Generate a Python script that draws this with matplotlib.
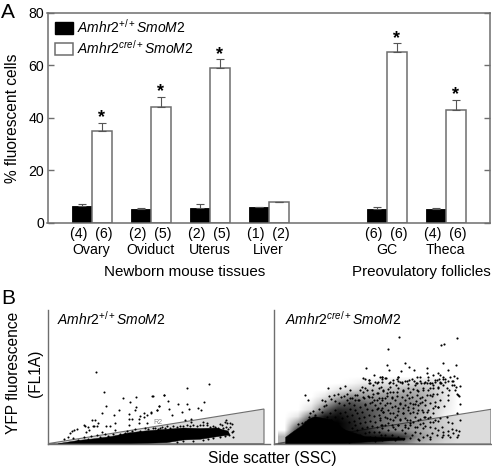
import matplotlib
matplotlib.use("Agg")
import matplotlib.pyplot as plt
from matplotlib.colors import LinearSegmentedColormap
from matplotlib.patches import Patch, Polygon

plt.rcParams['font.family'] = ['Liberation Sans', 'DejaVu Sans']
plt.rcParams['mathtext.fontset'] = 'custom'
plt.rcParams['mathtext.rm'] = 'Liberation Sans'
plt.rcParams['mathtext.it'] = 'Liberation Sans:italic'

W, H = 492, 467
GRAY = '#6e6e6e'

# ---------- panel A data
tissues = ['Ovary', 'Oviduct', 'Uterus', 'Liver', 'GC', 'Theca']
group_pos = [0, 1, 2, 3, 5, 6]
control = [6.2, 5.2, 5.6, 6.0, 5.4, 5.2]
control_err = [0.8, 0.3, 1.4, 0.1, 0.6, 0.3]
mutant = [35, 44, 59, 7.8, 65, 43]
mutant_err = [3.0, 4.0, 3.3, 0.2, 3.4, 3.8]
n_control = [4, 2, 2, 1, 6, 4]
n_mutant = [6, 5, 5, 2, 6, 6]
significant = [True, True, True, False, True, True]
label_ctrl = r'$\mathit{Amhr2}^{+/+}\mathit{SmoM2}$'
label_mut = r'$\mathit{Amhr2}^{cre/+}\mathit{SmoM2}$'

# ---------- panel B data: dots read from enlarged crops (crop px = 3 x image px)
# left panel, crop origin (45,360)
L1 = [(153,35),(176,96),(233,113),(274,110),(254,126),(323,107),(356,104),(182,138),(223,149),(274,141),
      (271,149),(341,138),(335,149),(171,160),(207,165),(253,161),(297,160),(284,167),(319,157),(306,164),
      (253,176),(262,176),(281,178),(298,170),(211,188),(140,179),(150,180),(158,190),(118,194),(121,197),
      (95,206),(87,209),(82,213),(75,219),(129,202),(131,211),(122,217),(143,199),(148,197),(157,197),
      (182,197),(194,198),(253,194),(283,188),(305,188),(170,215),(210,210),(70,230),(58,237),(85,235),
      (116,230),(137,228),(155,226),(180,222),(245,212),(270,208),(300,205),(330,203),(350,200),(225,222),
      (190,228),(205,222),(240,218),(262,212),(285,212),(310,206),(340,206),(130,238),(100,240),(165,232)]
# left panel, crop origin (150,360)
L2 = [(112,85),(177,73),(7,107),(41,105),(55,123),(85,131),(112,131),(162,125),(26,139),(20,150),
      (2,158),(57,147),(65,164),(95,155),(118,146),(143,144),(152,149),(105,180),(122,178),(123,185),
      (160,186),(170,188),(227,180),(240,188),(232,190),(50,197),(225,185),(245,192),(240,200),(250,230),
      (232,215),(215,195),(205,205),(195,200),(180,200),(160,196),(140,198),(120,198),(100,198),(80,200),
      (30,204),(10,204),(245,215),(238,225),(248,212),(228,200),
      (60,203),(45,205),(70,198),(90,197),(110,196),(130,196),(150,194),(170,195),(190,197),(210,192),
      (220,205),(235,206),(225,228),(210,232),(190,235),(160,240),(130,242),(100,243),(80,247),(175,238)]
# dense band of the left panel: outline in image px
L_BAND_X = [58,78.3,95,111.7,128.3,145,163.3,183.3,200,216.7,228,230,221.7,200,183.3,166.7,130]
L_BAND_Y = [443.7,440.5,438.7,436.5,433,431,429.5,428,428.5,428,431,435,436,439.3,440,442.7,443.7]

# right panel density read by eye, crop origin (265,320)
R_DENS_X = [60, 100, 140, 180, 220, 260, 300, 340, 380, 420, 460, 500, 540, 580]
R_DENS_Y = [370, 350, 330, 310, 290, 270, 250, 230, 210, 190, 170]
R_DENS_370 = [.30, 1.0, 1.0, 1.0, 1.0, .90, .80, .70, .50, .40, .20, .10, .03, 0]
R_DENS_350 = [.30, 1.0, 1.0, 1.0, 1.0, 1.0, .90, .90, .85, .70, .35, .20, .08, 0]
R_DENS_330 = [0, .80, 1.0, 1.0, 1.0, .90, .85, .60, .40, .35, .25, .15, .08, 0]
R_DENS_310 = [0, .40, .95, 1.0, 1.0, .90, .75, .60, .50, .40, .30, .15, .05, 0]
R_DENS_290 = [0, .10, .60, .90, .95, .85, .75, .60, .50, .50, .35, .20, .05, 0]
R_DENS_270 = [0, 0, .15, .60, .85, .80, .70, .60, .50, .50, .40, .20, .08, 0]
R_DENS_250 = [0, 0, .05, .30, .60, .70, .60, .50, .45, .50, .40, .25, .10, 0]
R_DENS_230 = [0, 0, 0, .10, .30, .45, .40, .40, .40, .40, .35, .25, .10, 0]
R_DENS_210 = [0, 0, 0, 0, .10, .15, .25, .25, .25, .30, .30, .20, .10, 0]
R_DENS_190 = [0, 0, 0, 0, 0, .03, .08, .10, .12, .12, .15, .15, .10, 0]
R_DENS_170 = [0, 0, 0, 0, 0, 0, 0, 0, 0, 0, 0, 0, 0, 0]
R_DENS = [R_DENS_370, R_DENS_350, R_DENS_330, R_DENS_310, R_DENS_290, R_DENS_270,
          R_DENS_250, R_DENS_230, R_DENS_210, R_DENS_190, R_DENS_170]
# solid core of the right panel, crop origin (265,320)
R_CORE_X = [62,62,85,110,130,150,200,240,300,340,420,420,300,200]
R_CORE_Y = [372,352,335,318,298,290,300,330,350,352,354,360,366,372]
# right panel, crop origin (272,380)
R1 = [(100,44),(107,59),(167,24),(203,25),(218,17),(233,30),(225,42),(270,22),(290,0),(310,5),
      (300,30),(272,35),(150,60),(160,62),(172,48),(185,45),(197,43),(207,50),(215,47),(178,58),
      (190,62),(163,75),(155,78),(122,92),(115,100),(130,105),(110,112),(100,125),(90,130),(78,132),
      (140,88),(150,95),(240,55),(225,60),(255,45),(285,30),(320,25),(300,50),(315,40),(250,60),
      (175,100),(190,90),(200,70),(215,75),(230,70),(245,75),(260,60),(275,55),(290,50),(305,60),
      (320,55),(325,70),(310,75),(295,70),(280,72),(265,80),(250,90),(235,88),(220,95),(205,100),
      (190,110),(210,115),(225,108),(240,105),(255,100),(270,95),(285,88),(300,90),(315,88),(328,90),
      (320,105),(305,108),(290,105),(275,112),(260,115),(245,122),(230,125),(250,135),(265,130),(280,125),
      (295,122),(310,125),(325,120),(328,135),(315,140),(300,138),(285,140),(270,145),(255,150),(240,145),
      (290,155),(305,155),(320,155),(328,165),(310,170),(295,170),(280,160),(265,165),(250,165),(270,180),
      (290,180),(310,182),(330,180),(235,170),(225,160),(215,150),(200,140),(190,130),(178,120),(165,110),
      (210,170),(230,185),(250,180),(195,180),(165,135),(185,150),(200,160)]
# right panel, crop origin (380,380)
R2 = [(240,72),(238,47),(232,42),(225,30),(222,15),(240,17),(205,45),(208,30),(203,60),(193,78),
      (175,80),(165,78),(150,45),(160,42),(135,60),(127,65),(120,55),(108,62),(98,72),(88,55),
      (75,60),(60,72),(45,60),(35,50),(20,40),(10,30),(3,20),(30,20),(48,15),(65,10),
      (85,12),(105,15),(122,10),(140,8),(160,15),(180,10),(195,5),(215,3),(175,25),(150,25),
      (130,30),(110,30),(90,35),(70,30),(50,35),(30,35),(15,55),(5,60),(20,70),(35,80),
      (55,85),(70,85),(85,80),(100,85),(115,75),(125,90),(140,95),(160,100),(133,110),(110,100),
      (90,100),(70,100),(50,105),(30,100),(10,95),(5,85),(20,115),(40,120),(60,118),(80,120),
      (100,125),(115,120),(130,128),(145,115),(160,125),(175,122),(200,112),(230,98),(240,120),(205,125),
      (215,130),(185,140),(165,145),(150,140),(130,145),(110,140),(90,130),(75,135),(55,135),(35,135),
      (15,135),(5,145),(25,150),(45,148),(65,150),(85,145),(105,155),(120,160),(140,165),(155,160),
      (175,150),(190,155),(205,152),(215,148),(228,150),(238,152),(235,165),(220,160),(205,165),(190,165),
      (170,165),(150,172),(130,170),(115,178),(95,165),(75,160),(55,170),(35,165),(15,165),(5,175),
      (25,178),(45,180),(70,178),(90,175),(118,180),(150,178),(185,170),(210,172),(232,172)]
# right panel, crop origin (380,320)
R3 = [(57,50),(232,54),(184,74),(193,73),(23,86),(190,128),(76,129),(229,136),(21,134),(88,141),
      (142,145),(27,150),(102,150),(204,150),(62,154),(174,158),(140,160),(180,165),(160,165),(5,170),
      (16,174),(54,170),(50,177),(112,172),(190,170),(222,168),(209,172),(232,175),(143,172),(145,180),
      (172,180),(176,178),(188,178),(30,185),(40,188),(55,182),(60,185),(76,182),(87,180),(103,183),
      (110,190),(120,184),(132,188),(155,190),(165,185),(184,188),(203,183),(220,183),(5,177),(150,190)]
# right panel, crop origin (272,320)
R4 = [(281,143),(272,175),(305,165),(290,180),(325,172),(330,185),(295,190),(315,190),(280,178)]
# right panel mid cloud, crop origin (265,320)
R5 = [(255,235),(270,225),(285,210),(300,205),(312,190),(325,195),(340,185),(350,172),(362,175),(372,190),
      (385,180),(398,170),(410,185),(425,182),(440,178),(452,190),(465,170),(480,185),(495,190),(510,180),
      (525,185),(540,178),(535,195),(520,200),(505,205),(490,210),(475,205),(460,212),(445,208),(430,205),
      (415,212),(400,205),(385,215),(370,208),(355,212),(340,218),(325,222),(310,228),(295,232),(280,240),
      (300,255),(320,245),(335,240),(350,235),(365,228),(380,235),(395,228),(410,232),(425,225),(440,230),
      (455,225),(470,232),(485,225),(500,228),(515,222),(530,215),(545,205),(560,195),(572,200),(580,225),
      (360,255),(375,250),(390,258),(405,250),(420,255),(435,248),(450,252),(465,250),(480,255),(495,248),
      (510,245),(525,240),(340,265),(355,275),(370,270),(385,278),(400,272),(415,278),(430,270),(445,275),
      (460,270),(475,275),(490,270),(505,265),(520,262),(345,295),(360,290),(375,298),(390,292),(405,300),
      (420,295),(435,300),(450,292),(465,298),(480,290),(495,290),(350,315),(370,310),(385,320),(400,315),
      (420,320),(435,315),(450,322),(465,312),(480,318),(495,305),(510,300),(525,295)]


def crop_to_image(points, x0, y0):
    return [x0 + p[0] / 3 for p in points], [y0 + p[1] / 3 for p in points]


def make_ax(x0, y0, x1, y1):
    """axes from image px box"""
    return fig.add_axes([x0 / W, 1 - y1 / H, (x1 - x0) / W, (y1 - y0) / H])


def ftext(x, y, s, **kw):
    kw.setdefault('ha', 'center')
    kw.setdefault('va', 'center')
    fig.text(x / W, 1 - y / H, s, **kw)


fig = plt.figure(figsize=(W / 100, H / 100), dpi=100)

# ---------- panel A
ax = make_ax(47.5, 13, 490, 222.7)
width = 0.337
ebk = dict(ecolor='#555555', elinewidth=0.8, capsize=3, capthick=0.8)
zeros = [0] * len(tissues)
xc = [p - width / 2 for p in group_pos]
xm = [p + width / 2 for p in group_pos]
ax.bar(xc, control, width, color='black', edgecolor='black', linewidth=0.6,
       yerr=[zeros, control_err], error_kw=ebk, label=label_ctrl)
ax.bar(xm, mutant, width, color='white', edgecolor=GRAY, linewidth=1.1,
       yerr=[zeros, mutant_err], error_kw=ebk, label=label_mut)
for x, v, e, sig in zip(xm, mutant, mutant_err, significant):
    if sig:
        ax.annotate('*', (x, v + e), xytext=(0, -2.5), textcoords='offset points', ha='center',
                    va='bottom', fontsize=13, fontweight='bold')
ax.set_xlim(-0.749, 6.75)
ax.set_ylim(0, 80)
ax.set_yticks([0, 20, 40, 60, 80])
ax.set_xticks(group_pos)
ax.set_xticklabels([f'({a})  ({b})\n{t}' for a, b, t in zip(n_control, n_mutant, tissues)],
                   fontsize=10.2, linespacing=1.18)
ax.tick_params(axis='x', length=0, pad=3)
ax.tick_params(axis='y', labelsize=10.2, length=4.3, width=1, color=GRAY, pad=2.5, direction='in',
               left=True, right=True)
for s in ax.spines.values():
    s.set_color(GRAY)
    s.set_linewidth(1.1)
handles = [Patch(facecolor='black', edgecolor='black', label=label_ctrl),
           Patch(facecolor='white', edgecolor=GRAY, linewidth=1.1, label=label_mut)]
ax.legend(handles=handles, loc='upper left', bbox_to_anchor=(0.006, 1.0), frameon=False, fontsize=10.0,
          handlelength=1.27, handleheight=1.0, handletextpad=0.32, labelspacing=0.22,
          borderaxespad=0.1, borderpad=0.25)

ftext(13, 118, '% fluorescent cells', rotation=90, fontsize=11.2)
ftext(185, 272, 'Newborn mouse tissues', fontsize=10.9)
ftext(421, 272, 'Preovulatory follicles', fontsize=10.9)
ftext(1, 12, 'A', fontsize=15, ha='left')
ftext(1, 298, 'B', fontsize=15, ha='left')

# ---------- panel B
GATE = '#dcdcdc'
axl = make_ax(47.5, 310, 270, 443.7)
axl.set_xlim(47.5, 270)
axl.set_ylim(443.7, 310)
axl.add_patch(Polygon([(47.5, 443.7), (264, 409), (264, 443.7)], facecolor=GATE, edgecolor=GRAY, linewidth=0.8))
axl.fill(L_BAND_X, L_BAND_Y, color='black', linewidth=0.3)
for pts, x0, y0 in ((L1, 45, 360), (L2, 150, 360)):
    xs, ys = crop_to_image(pts, x0, y0)
    axl.scatter(xs, ys, s=2.2, color='black', linewidths=0, zorder=3)
axl.text(158, 422.7, 'R2', fontsize=5, color='#8a8a8a', ha='center', va='center')

axr = make_ax(274.3, 310, 491, 444)
axr.add_patch(Polygon([(274.3, 444), (491, 409.3), (491, 444)], facecolor=GATE, edgecolor=GRAY, linewidth=0.8))
dens_cmap = LinearSegmentedColormap.from_list('dens', [(0, 0, 0, 0), (0, 0, 0, 1)])
half = 20
extent = (265 + (R_DENS_X[0] - half) / 3, 265 + (R_DENS_X[-1] + half) / 3,
          320 + (R_DENS_Y[0] + half / 2) / 3, 320 + (R_DENS_Y[-1] - half / 2) / 3)
axr.imshow(R_DENS, origin='lower', extent=extent, cmap=dens_cmap, vmin=0, vmax=1,
           interpolation='bilinear', aspect='auto', zorder=2)
cx, cy = crop_to_image(list(zip(R_CORE_X, R_CORE_Y)), 265, 320)
axr.fill(cx, cy, color='black', linewidth=0.3, zorder=2)
for pts, x0, y0 in ((R1, 272, 380), (R2, 380, 380), (R3, 380, 320), (R4, 272, 320), (R5, 265, 320)):
    xs, ys = crop_to_image(pts, x0, y0)
    axr.scatter(xs, ys, s=2.4, color='black', linewidths=0, zorder=3)
axr.set_xlim(274.3, 491)
axr.set_ylim(444, 310)

for a in (axl, axr):
    a.set_xticks([])
    a.set_yticks([])
    a.patch.set_alpha(0)
    a.spines['top'].set_visible(False)
    a.spines['right'].set_visible(False)
    for s in ('left', 'bottom'):
        a.spines[s].set_color(GRAY)
        a.spines[s].set_linewidth(1.0)

ftext(57, 319, label_ctrl, fontsize=10.0, ha='left')
ftext(285, 319, label_mut, fontsize=10.0, ha='left')
ftext(14, 373, 'YFP fluorescence', rotation=90, fontsize=11.2)
ftext(35, 373, '(FL1A)', rotation=90, fontsize=11.2)
ftext(272, 459, 'Side scatter (SSC)', fontsize=11.2)

fig.savefig('out.png', dpi=100)
